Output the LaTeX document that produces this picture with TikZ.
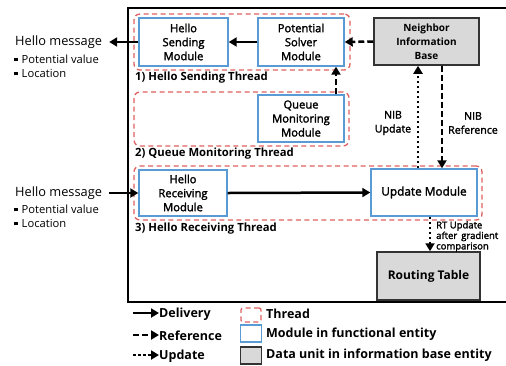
\documentclass[tikz,border=0pt]{standalone}
\usepackage{fontspec}
\setmainfont{Open Sans}
\newfontfamily\modfont[FakeBold=2]{Open Sans}
\usetikzlibrary{arrows.meta}
\definecolor{modblue}{RGB}{91,155,213}
\definecolor{thrred}{RGB}{222,96,96}
\definecolor{datagray}{RGB}{217,217,217}
\tikzset{
  module/.style={draw=modblue,line width=1.4pt,fill=white,align=center,inner sep=0pt,
    font=\modfont\fontsize{11.2}{14}\selectfont},
  dataunit/.style={draw=black!80,line width=1.5pt,fill=datagray,align=center,inner sep=0pt,
    font=\fontsize{10}{14}\selectfont\bfseries},
  thread/.style={draw=thrred,line width=1.3pt,dash pattern=on 5pt off 3.5pt,rounded corners=6pt,inner sep=0pt},
  threadlabel/.style={anchor=west,inner sep=0pt,font=\fontsize{11.3}{12}\selectfont\bfseries},
  plain/.style={inner sep=0pt,align=center},
  delivery/.style={line width=2.5pt,-{Triangle[length=8pt,width=9pt]}},
  reference/.style={line width=2.5pt,dash pattern=on 6pt off 3pt,-{Triangle[length=8pt,width=9pt]}},
  update/.style={line width=2.5pt,dash pattern=on 2.5pt off 2.5pt,-{Triangle[length=8pt,width=9pt]}},
  legtext/.style={anchor=west,inner sep=0pt,font=\fontsize{12.5}{13}\selectfont\bfseries},
  hello/.style={plain,anchor=west,font=\fontsize{12.8}{14}\selectfont},
  bullet/.style={plain,anchor=west,font=\fontsize{11.2}{12}\selectfont},
}
\newcommand{\sqb}{\rule[0.3ex]{3.5pt}{3.5pt}\hspace{4pt}}
\begin{document}
\begin{tikzpicture}[x=1pt,y=-1pt]
\useasboundingbox (0,0) rectangle (506,365);
% outer frame
\draw[line width=1.5pt] (507,8) -- (128,8) -- (128,302) -- (507,302);
% threads
\node[thread,minimum width=216pt,minimum height=56pt] (t1) at (242,42) {};
\node[thread,minimum width=215pt,minimum height=54pt] (t2) at (241.5,119) {};
\node[thread,minimum width=348pt,minimum height=54pt] (t3) at (308,193) {};
\node[threadlabel] (t1l) at (135,78) {1) Hello Sending Thread};
\node[threadlabel] (t2l) at (135,154) {2) Queue Monitoring Thread};
\node[threadlabel] (t3l) at (135,229) {3) Hello Receiving Thread};
% modules
\node[module,minimum width=89pt,minimum height=48pt] (hs) at (183.5,42) {Hello\\Sending\\Module};
\node[module,minimum width=86pt,minimum height=48pt] (ps) at (301,42) {Potential\\Solver\\Module};
\node[module,minimum width=86pt,minimum height=47pt] (qm) at (301,118.5) {Queue\\Monitoring\\Module};
\node[module,minimum width=88pt,minimum height=46pt] (hr) at (183,193) {Hello\\Receiving\\Module};
\node[module,minimum width=106pt,minimum height=47pt,font=\modfont\fontsize{11.8}{14}\selectfont] (um) at (424,192.5) {Update Module};
\node[dataunit,minimum width=105pt,minimum height=47pt] (nib) at (426.5,41.5) {Neighbor\\Information\\Base};
\node[dataunit,minimum width=103pt,minimum height=48pt,font=\fontsize{12}{14}\selectfont\bfseries] (rt) at (428.5,276) {Routing Table};
% hello message texts
\node[hello] (hm1) at (15,42) {Hello message};
\node[bullet] (b1a) at (14,59) {\sqb Potential value};
\node[bullet] (b1b) at (14,73) {\sqb Location};
\node[hello] (hm2) at (15,193) {Hello message};
\node[bullet] (b2a) at (14,209) {\sqb Potential value};
\node[bullet] (b2b) at (14,223) {\sqb Location};
% connectors
\draw[delivery] (hs.west) -- ([xshift=7pt]hm1.east);
\draw[delivery] (ps.west) -- (hs.east);
\draw[reference] (nib.west) -- (ps.east);
\coordinate (xq) at (336,0);
\draw[reference] (qm.north -| xq) -- (ps.south -| xq);
\draw[delivery] ([xshift=7pt]hm2.east) -- (hr.west);
\draw[delivery] (hr.east) -- (um.west);
\coordinate (xu) at (418,0);
\coordinate (xr) at (442,0);
\coordinate (xt) at (430,0);
\draw[update] (um.north -| xu) -- (nib.south -| xu);
\draw[reference] (nib.south -| xr) -- (um.north -| xr);
\draw[update] (um.south -| xt) -- (rt.north -| xt);
\node[plain,font=\modfont\fontsize{10.6}{14}\selectfont] (lu) at (393,123) {NIB\\Update};
\node[plain,font=\modfont\fontsize{10.6}{14}\selectfont] (lr) at (473,123) {NIB\\Reference};
\node[plain,anchor=north west,align=left,font=\modfont\fontsize{9.5}{10.5}\selectfont] (lt) at (436,221)
  {\parbox{62pt}{RT Update\\after\hfill gradient\\comparison}};
% legend
\coordinate (la1) at (133,313); \coordinate (la2) at (159,313);
\coordinate (lb1) at (133,335); \coordinate (lb2) at (159,335);
\coordinate (lc1) at (133,355); \coordinate (lc2) at (159,355);
\draw[delivery] (la1) -- (la2);
\draw[reference] (lb1) -- (lb2);
\draw[update] (lc1) -- (lc2);
\node[legtext] (ld) at (159,314) {Delivery};
\node[legtext] (lrf) at (159,336) {Reference};
\node[legtext] (lup) at (159,356) {Update};
\node[thread,rounded corners=2pt,minimum width=20pt,minimum height=14pt] (lt1) at (251,315) {};
\node[module,minimum width=21pt,minimum height=17pt] (lt2) at (251,333.5) {};
\node[dataunit,minimum width=21pt,minimum height=17pt] (lt3) at (251,355.5) {};
\node[legtext] (ltt) at (266,314) {Thread};
\node[legtext] (ltm) at (266,334) {Module in functional entity};
\node[legtext] (ltd) at (266,355) {Data unit in information base entity};
\end{tikzpicture}
\end{document}
